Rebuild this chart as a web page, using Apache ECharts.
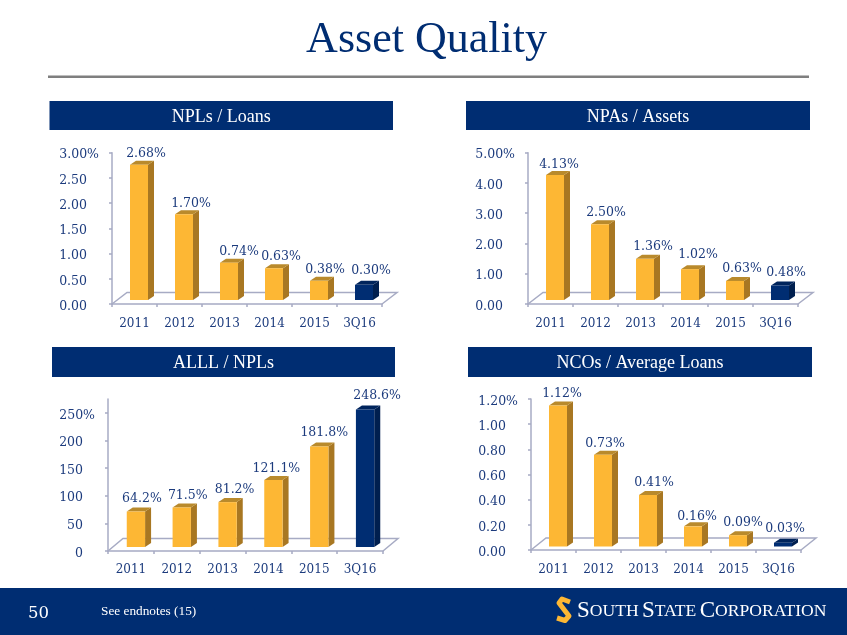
<!DOCTYPE html>
<html><head><meta charset="utf-8">
<style>html,body{margin:0;padding:0;background:#fff}#c{width:847px;height:635px}</style>
<script src="https://cdn.jsdelivr.net/npm/echarts@6/dist/echarts.min.js"></script>
</head><body><div id="c"></div>
<script>
const categories = ['2011','2012','2013','2014','2015','3Q16'];
const nplValues = [2.68,1.70,0.74,0.63,0.38,0.30];
const npaValues = [4.13,2.50,1.36,1.02,0.63,0.48];
const alllValues = [64.2,71.5,81.2,121.1,181.8,248.6];
const ncoValues = [1.12,0.73,0.41,0.16,0.09,0.03];
const nplTicks = [0,0.5,1,1.5,2,2.5,3];
const npaTicks = [0,1,2,3,4,5];
const alllTicks = [0,50,100,150,200,250];
const ncoTicks = [0,0.2,0.4,0.6,0.8,1,1.2];
const nplNudgeX = [7,7,10,7,6,7], nplNudgeY = [-9,-9,-9,-9,-9,-12];
const npaNudgeX = [4,6,8,8,7,6], npaNudgeY = [-8,-10,-10,-12,-10,-11];
const alllNudgeX = [6,6,7,3,5,12], alllNudgeY = [-11,-10,-10,-9,-12,-12];
const ncoNudgeX = [4,2,6,4,5,2], ncoNudgeY = [-10,-9,-10,-8,-10,-12];

const NAVY='#002d72', INK='#1c3b7d', AXIS='#a7abc4', SERIF='"DejaVu Serif"', HEAD='"Liberation Serif"';
const panels = [
 {title:'NPLs / Loans',head:[49.5,101,343.5,29],left:112,top:152.7,w:270,h:151.3,max:3,iv:.5,ticks:nplTicks,vals:nplValues,dec:2,suf:'%',nx:nplNudgeX,ny:nplNudgeY,floor:[15,-11.5],base:[4.5,-4],xm:14},
 {title:'NPAs / Assets',head:[466,101,344,29],left:528,top:152.7,w:270,h:151.3,max:5,iv:1,ticks:npaTicks,vals:npaValues,dec:2,suf:'%',nx:npaNudgeX,ny:npaNudgeY,floor:[15,-11.5],base:[4.5,-4],xm:14},
 {title:'ALLL / NPLs',head:[52,347,343,30],left:108,top:399,w:275,h:152,max:275,iv:50,ticks:alllTicks,vals:alllValues,dec:0,suf:'%',nx:alllNudgeX,ny:alllNudgeY,floor:[15,-12.5],base:[5,-4],xm:13},
 {title:'NCOs / Average Loans',head:[468,347,344,30],left:531,top:399,w:270,h:151,max:1.2,iv:.2,ticks:ncoTicks,vals:ncoValues,dec:2,suf:'%',nx:ncoNudgeX,ny:ncoNudgeY,floor:[15,-12],base:[4.5,-3.5],xm:14}
];
const grid=[],xAxis=[],yAxis=[],series=[],graphic=[];
graphic.push({type:'rect',z:-10,shape:{x:0,y:588,width:847,height:47},style:{fill:NAVY}});
graphic.push({type:'rect',z:-10,shape:{x:48,y:75.5,width:761,height:2.5},style:{fill:'#7f7f7f'}});
graphic.push({type:'text',z:5,x:426.5,y:40,style:{text:'Asset Quality',fill:NAVY,font:'44px '+HEAD,align:'center',verticalAlign:'middle'}});
graphic.push({type:'text',z:5,x:28,y:614,style:{text:'50',fill:'#fff',font:'16.5px '+SERIF,verticalAlign:'middle'}});
graphic.push({type:'text',z:5,x:101,y:612,style:{text:'See endnotes (15)',fill:'#fff',font:'13.3px '+HEAD,verticalAlign:'middle'}});
graphic.push({type:'polyline',z:5,shape:{points:[[570,602],[562,599],[559,603],[569,616],[565,620.5],[557,618]]},style:{stroke:'#fdb734',fill:null,lineWidth:5,lineJoin:'round'}});
graphic.push({type:'text',z:5,x:577,y:611,style:{rich:{a:{font:'23px '+HEAD,fill:'#fff'},b:{font:'17.6px '+HEAD,fill:'#fff'}},text:'{a|S}{b|OUTH} {a|S}{b|TATE} {a|C}{b|ORPORATION}',verticalAlign:'middle'}});

panels.forEach((p,i)=>{
  const [hx,hy,hw,hh]=p.head;
  graphic.push({type:'rect',z:-5,shape:{x:hx,y:hy,width:hw,height:hh},style:{fill:NAVY}});
  graphic.push({type:'text',z:5,x:hx+hw/2,y:hy+hh/2+1.5,style:{text:p.title,fill:'#fff',font:'18px '+HEAD,align:'center',verticalAlign:'middle'}});
  grid.push({left:p.left,top:p.top,width:p.w,height:p.h});
  xAxis.push({type:'category',gridIndex:i,data:categories,
    axisLine:{lineStyle:{color:AXIS,width:1.5}},axisTick:{show:true,length:3,lineStyle:{color:AXIS,width:1.5}},
    axisLabel:{color:INK,fontFamily:SERIF,fontSize:12,margin:p.xm,interval:0},splitLine:{show:false}});
  const last=p.ticks[p.ticks.length-1];
  yAxis.push({type:'value',gridIndex:i,min:0,max:p.max,interval:p.iv,
    axisLine:{show:true,lineStyle:{color:AXIS,width:1.5}},
    axisTick:{show:true,length:3,customValues:p.ticks,lineStyle:{color:AXIS,width:1.5}},
    splitLine:{show:false},
    axisLabel:{customValues:p.ticks,margin:13,align:'right',padding:[5,0,0,0],
      formatter:v=>'{n|'+v.toFixed(p.dec)+'}'+(v===last?'{n|'+p.suf+'}':'{s| }'),
      rich:{n:{color:INK,fontFamily:SERIF,fontSize:12.5},s:{width:12,fontSize:12.5}}}});
  series.push({type:'custom',xAxisIndex:i,yAxisIndex:i,silent:true,z:1,clip:false,data:[[0,0]],encode:{x:0,y:1},
    renderItem:(params,api)=>{
      const c=params.coordSys,[fx,fy]=p.floor,b=c.y+c.height,r=c.x+c.width;
      return {type:'polyline',shape:{points:[[c.x,b],[c.x+fx,b+fy],[r+fx,b+fy],[r,b]]},style:{stroke:AXIS,lineWidth:1.5,fill:null}};
    }});
  series.push({type:'custom',xAxisIndex:i,yAxisIndex:i,silent:true,z:2,clip:false,
    data:p.vals.map((v,k)=>[k,v]),encode:{x:0,y:1},
    renderItem:(params,api)=>{
      const k=api.value(0),v=api.value(1);
      const top=api.coord([k,v]),bot=api.coord([k,0]);
      const w=api.size([1,0])[0]*0.4,dx=6,dy=-4;
      const cx=top[0]+p.base[0],x0=cx-w/2,x1=cx+w/2,yb=bot[1]+p.base[1],yt=top[1]+p.base[1];
      const dark=k===categories.length-1;
      const poly=(pts,fill)=>({type:'polygon',shape:{points:pts},style:{fill}});
      return {type:'group',children:[
        poly([[x1,yb],[x1+dx,yb+dy],[x1+dx,yt+dy],[x1,yt]],dark?'#001f4f':'#a87722'),
        poly([[x0,yt],[x0+dx,yt+dy],[x1+dx,yt+dy],[x1,yt]],dark?'#00245c':'#b98a2c'),
        poly([[x0,yb],[x1,yb],[x1,yt],[x0,yt]],dark?NAVY:'#fdb734'),
        {type:'text',x:cx+p.nx[k],y:yt+dy+p.ny[k]+2,style:{text:v.toFixed(p.dec===0?1:2)+'%',fill:INK,font:'12.5px '+SERIF,align:'center',verticalAlign:'middle'}}
      ]};
    }});
});
const chart=echarts.init(document.getElementById('c'),null,{renderer:'canvas'});
chart.setOption({animation:false,backgroundColor:'#fff',grid,xAxis,yAxis,series,graphic});
</script></body></html>
